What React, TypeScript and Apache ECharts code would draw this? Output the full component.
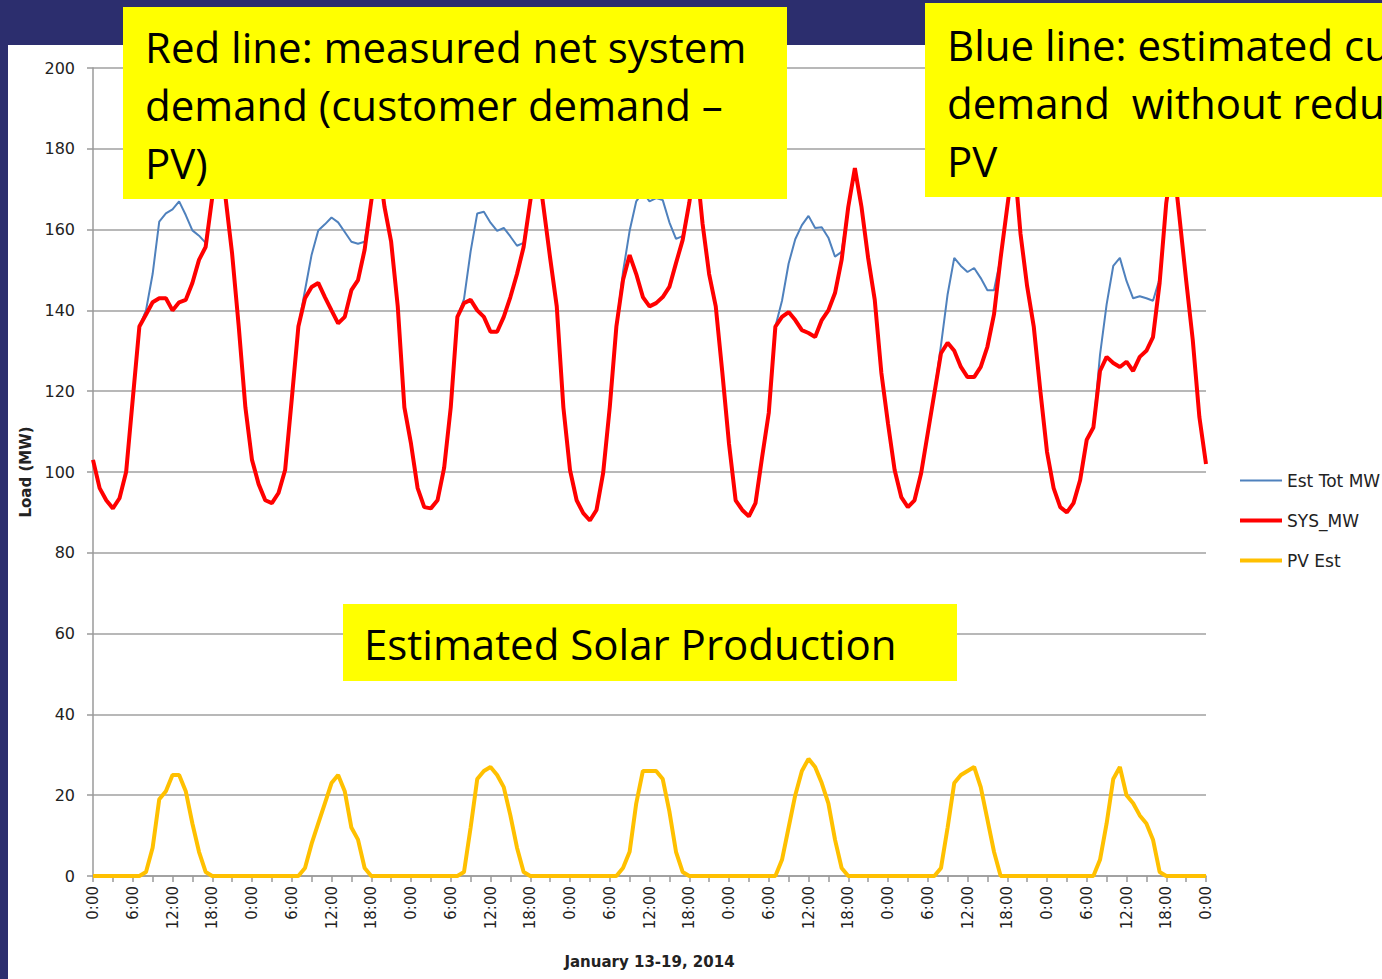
import React, { useEffect, useRef } from 'react';
import * as echarts from 'echarts';

// hourly categories, 13-19 January 2014 (0:00 day 1 .. 0:00 day 8)
const hourLabels: string[] = Array.from({ length: 169 }, (_, i) => `${i % 24}:00`);

const seriesNames = ['Est Tot MW', 'SYS_MW', 'PV Est'];

// SYS_MW: measured net system demand (MW)
const sysMW = [
  103, 96, 93, 91, 93.5, 100, 118, 136, 139, 142, 143, 143, 140, 142, 142.6, 146.8, 152.5, 155.7, 168, 178, 168, 154, 136, 116,
  103, 97, 93, 92.3, 94.8, 100.5, 118, 136, 143, 145.8, 146.8, 143.3, 140, 136.8, 138.4, 145, 147.5, 155, 167, 178, 165.6, 157, 141, 116,
  107, 96, 91.3, 91, 93, 101, 116, 138.4, 141.8, 142.6, 140, 138.4, 134.7, 134.7, 138.4, 143.3, 149, 155.7, 167, 178, 165.6, 153, 141, 116,
  100.5, 93, 89.8, 88, 90.6, 99.7, 116, 136, 147.5, 153.7, 149, 143.3, 141, 141.8, 143.3, 145.8, 151.7, 157.4, 166.6, 178, 161.6, 149, 141, 124.5,
  107, 93, 90.6, 89, 92.3, 103.7, 114.6, 136, 138.4, 139.6, 137.6, 135.1, 134.4, 133.4, 137.6, 140, 144.3, 152.5, 165.6, 175.2, 165.6, 153, 142.6, 124.5,
  112, 100.5, 93.8, 91.3, 93, 99.7, 109.6, 119.5, 129.4, 132, 130, 126, 123.5, 123.5, 126, 131, 139, 153, 165.6, 178, 159, 146, 136, 120,
  105, 96, 91.3, 90, 92.3, 98, 108, 111, 125, 128.5, 127, 126, 127.3, 125, 128.5, 130, 133.4, 146.8, 166.6, 178, 163, 147.5, 132.7, 113.6, 102,
];

// Est Tot MW: estimated customer demand without PV reduction (MW)
const estTotMW = [
  103, 96, 93, 91, 93.5, 100, 118, 136, 140, 149, 162, 164, 165, 167, 163.6, 159.8, 158.5, 156.7, 168, 178, 168, 154, 136, 116,
  103, 97, 93, 92.3, 94.8, 100.5, 118, 136, 145, 153.8, 159.8, 161.3, 163, 161.8, 159.4, 157, 156.5, 157, 167, 178, 165.6, 157, 141, 116,
  107, 96, 91.3, 91, 93, 101, 116, 138.4, 142.8, 154.6, 164, 164.4, 161.7, 159.7, 160.4, 158.3, 156, 156.7, 167, 178, 165.6, 153, 141, 116,
  100.5, 93, 89.8, 88, 90.6, 99.7, 116, 136, 149.5, 159.7, 167, 169.3, 167, 167.8, 167.3, 161.8, 157.7, 158.4, 166.6, 178, 161.6, 149, 141, 124.5,
  107, 93, 90.6, 89, 92.3, 103.7, 114.6, 136, 142.4, 151.6, 157.6, 161.1, 163.4, 160.4, 160.6, 158, 153.3, 154.5, 165.6, 175.2, 165.6, 153, 142.6, 124.5,
  112, 100.5, 93.8, 91.3, 93, 99.7, 109.6, 119.5, 131.4, 144, 153, 151, 149.5, 150.5, 148, 145, 145, 153, 165.6, 178, 159, 146, 136, 120,
  105, 96, 91.3, 90, 92.3, 98, 108, 111, 129, 141.5, 151, 153, 147.3, 143, 143.5, 143, 142.4, 147.8, 166.6, 178, 163, 147.5, 132.7, 113.6, 102,
];

// PV Est: estimated solar production (MW)
const pvEst = [
  0, 0, 0, 0, 0, 0, 0, 0, 1, 7, 19, 21, 25, 25, 21, 13, 6, 1, 0, 0, 0, 0, 0, 0,
  0, 0, 0, 0, 0, 0, 0, 0, 2, 8, 13, 18, 23, 25, 21, 12, 9, 2, 0, 0, 0, 0, 0, 0,
  0, 0, 0, 0, 0, 0, 0, 0, 1, 12, 24, 26, 27, 25, 22, 15, 7, 1, 0, 0, 0, 0, 0, 0,
  0, 0, 0, 0, 0, 0, 0, 0, 2, 6, 18, 26, 26, 26, 24, 16, 6, 1, 0, 0, 0, 0, 0, 0,
  0, 0, 0, 0, 0, 0, 0, 0, 4, 12, 20, 26, 29, 27, 23, 18, 9, 2, 0, 0, 0, 0, 0, 0,
  0, 0, 0, 0, 0, 0, 0, 0, 2, 12, 23, 25, 26, 27, 22, 14, 6, 0, 0, 0, 0, 0, 0, 0,
  0, 0, 0, 0, 0, 0, 0, 0, 4, 13, 24, 27, 20, 18, 15, 13, 9, 1, 0, 0, 0, 0, 0, 0, 0,
];

const redNote = ['Red line: measured net system', 'demand (customer demand \u2013', 'PV)'];
const blueNote = ['Blue line: estimated customer', 'demand  without reduction by', 'PV'];
const solarNote = ['Estimated Solar Production'];

const NAVY = '#2C2E6E';
const BOX_FONT = '42px "Open Sans"';

function noteBox(x: number, y: number, w: number, h: number, lines: string[], tx: number, ty: number, lh: number) {
  return {
    type: 'group',
    z: 100,
    children: [
      { type: 'rect', z: 100, shape: { x, y, width: w, height: h }, style: { fill: '#FFFF00' } },
      ...lines.map((t, i) => ({
        type: 'text',
        z: 101,
        style: {
          text: t,
          x: tx,
          y: ty + i * lh,
          font: BOX_FONT,
          fill: '#000000',
          verticalAlign: 'middle',
          textVerticalAlign: 'middle',
        },
      })),
    ],
  };
}

export default function App() {
  const ref = useRef<HTMLDivElement>(null);

  useEffect(() => {
    if (!ref.current) return;
    const chart = echarts.init(ref.current, null, { renderer: 'svg' });
    chart.setOption({
      animation: false,
      textStyle: { fontFamily: 'DejaVu Sans' },
      grid: { left: 93, top: 68, right: 176, bottom: 103, containLabel: false },
      legend: {
        orient: 'vertical',
        left: 1238,
        top: 472,
        padding: 0,
        itemWidth: 42,
        itemHeight: 14,
        itemGap: 23,
        data: seriesNames,
        lineStyle: { width: 'inherit' },
        itemStyle: { color: 'rgba(0,0,0,0)', borderColor: 'rgba(0,0,0,0)', borderWidth: 0, opacity: 0 },
        textStyle: { fontFamily: 'DejaVu Sans', fontSize: 17, color: '#222' },
      },
      xAxis: {
        type: 'category',
        data: hourLabels,
        boundaryGap: false,
        name: 'January 13-19, 2014',
        nameLocation: 'middle',
        nameGap: 78,
        nameTextStyle: { fontFamily: 'DejaVu Sans', fontWeight: 'bold', fontSize: 15, color: '#222' },
        axisLine: { show: true, lineStyle: { color: '#9A9A9A', width: 1.5 } },
        axisTick: { show: true, interval: 2, length: 6, lineStyle: { color: '#9A9A9A', width: 1.5 } },
        axisLabel: { interval: 5, rotate: 90, margin: 10, fontSize: 15, color: '#222', fontFamily: 'DejaVu Sans' },
        splitLine: { show: false },
      },
      yAxis: {
        type: 'value',
        min: 0,
        max: 200,
        interval: 20,
        name: 'Load (MW)',
        nameLocation: 'middle',
        nameGap: 60,
        nameRotate: 90,
        nameTextStyle: { fontFamily: 'DejaVu Sans', fontWeight: 'bold', fontSize: 15, color: '#222' },
        axisLine: { show: true, lineStyle: { color: '#9A9A9A', width: 1.5 } },
        axisTick: { show: true, length: 6, lineStyle: { color: '#9A9A9A', width: 1.5 } },
        axisLabel: { margin: 18, fontSize: 16, color: '#222', fontFamily: 'DejaVu Sans' },
        splitLine: { show: true, lineStyle: { color: '#A0A0A0', width: 1.5 } },
      },
      series: [
        {
          name: seriesNames[0],
          type: 'line',
          data: estTotMW,
          symbol: 'none',
          lineStyle: { color: '#4F81BD', width: 2 },
          itemStyle: { color: '#4F81BD' },
          z: 2,
        },
        {
          name: seriesNames[1],
          type: 'line',
          data: sysMW,
          symbol: 'none',
          lineStyle: { color: '#FF0000', width: 4 },
          itemStyle: { color: '#FF0000' },
          z: 3,
        },
        {
          name: seriesNames[2],
          type: 'line',
          data: pvEst,
          symbol: 'none',
          lineStyle: { color: '#FFC000', width: 4 },
          itemStyle: { color: '#FFC000' },
          z: 3,
        },
      ],
      graphic: [
        noteBox(123, 7, 664, 192, redNote, 145, 46, 58),
        noteBox(925, 3, 480, 194, blueNote, 947, 44, 58),
        noteBox(343, 604, 614, 77, solarNote, 364, 643, 58),
      ],
    });
    return () => chart.dispose();
  }, []);

  return (
    <div style={{ position: 'fixed', left: 0, top: 0, width: 1382, height: 979, background: NAVY, overflow: 'hidden' }}>
      <div style={{ position: 'absolute', left: 8, top: 45, right: 0, bottom: 0, background: '#FFFFFF' }} />
      <div ref={ref} style={{ position: 'absolute', left: 0, top: 0, width: 1382, height: 979 }} />
    </div>
  );
}
